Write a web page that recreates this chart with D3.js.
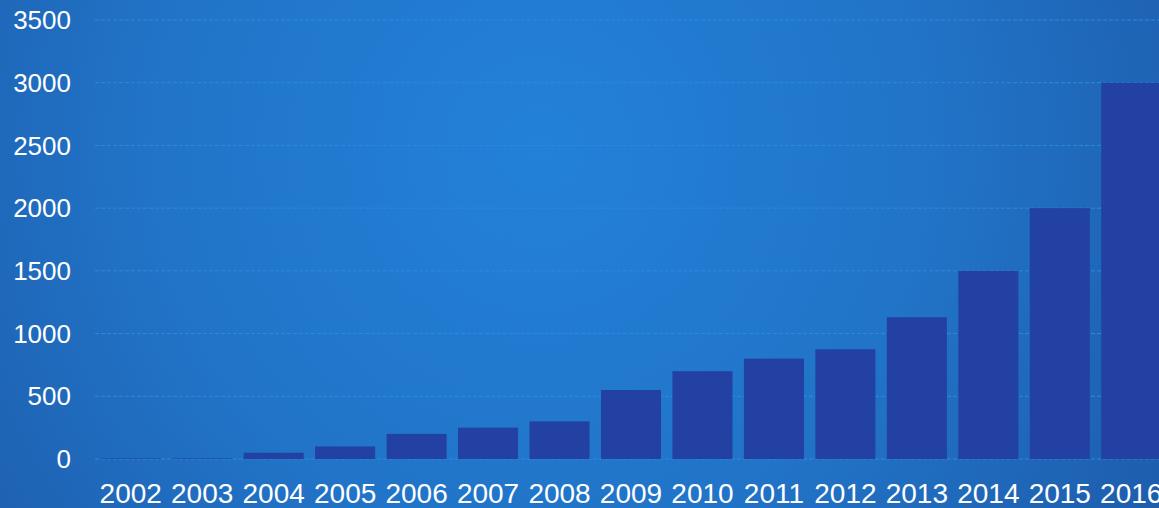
<!DOCTYPE html>
<html>
<head>
<meta charset="utf-8">
<script src="https://cdn.jsdelivr.net/npm/d3@7"></script>
<style>
  html, body { margin: 0; padding: 0; overflow: hidden; }
  svg { display: block; font-family: "Liberation Sans", Arial, sans-serif; }
</style>
</head>
<body>
<svg id="chart" width="1159" height="508"></svg>
<script>
const years = ["2002", "2003", "2004", "2005", "2006", "2007", "2008", "2009",
               "2010", "2011", "2012", "2013", "2014", "2015", "2016"]
const counts = [5, 5, 50, 100, 200, 250, 300, 550, 700, 800, 875, 1130, 1500, 2000, 3000]
const y_ticks = [0, 500, 1000, 1500, 2000, 2500, 3000, 3500]

const svg = d3.select("#chart")
const width = 1159, height = 508
const margin = { left: 95, right: -8, top: 20, bottom: 49 }

// background gradient
const defs = svg.append("defs")
const grad = defs.append("radialGradient")
    .attr("id", "bg-grad")
    .attr("gradientUnits", "userSpaceOnUse")
    .attr("cx", 540).attr("cy", 150).attr("r", 700)
grad.append("stop").attr("offset", "0%").attr("stop-color", "#2381d8")
grad.append("stop").attr("offset", "55%").attr("stop-color", "#2174c8")
grad.append("stop").attr("offset", "100%").attr("stop-color", "#1e5eae")

svg.append("rect")
    .attr("width", width).attr("height", height)
    .attr("fill", "url(#bg-grad)")

const x = d3.scaleBand()
    .domain(years)
    .range([margin.left, width - margin.right])
    .paddingInner(0.16)
    .paddingOuter(0.08)

const y = d3.scaleLinear()
    .domain([0, 3500])
    .range([height - margin.bottom, margin.top])

// gridlines
svg.append("g").attr("class", "grid")
    .selectAll("line")
    .data(y_ticks)
    .enter()
    .append("line")
    .attr("x1", margin.left)
    .attr("x2", width)
    .attr("y1", d => y(d))
    .attr("y2", d => y(d))
    .attr("stroke", "#2a8ae0")
    .attr("stroke-width", 1)
    .attr("stroke-dasharray", "4,2")

// bars
svg.append("g").attr("class", "bars")
    .selectAll("rect")
    .data(years)
    .enter()
    .append("rect")
    .attr("x", d => x(d))
    .attr("width", x.bandwidth())
    .attr("y", (d, i) => y(counts[i]))
    .attr("height", (d, i) => y(0) - y(counts[i]))
    .attr("fill", "#2241a3")

// y labels
svg.append("g").attr("class", "y-labels")
    .selectAll("text")
    .data(y_ticks)
    .enter()
    .append("text")
    .attr("x", 71)
    .attr("y", d => y(d))
    .attr("dy", "0.35em")
    .attr("text-anchor", "end")
    .attr("fill", "#ffffff")
    .attr("font-size", "26px")
    .text(d => d)

// x labels
svg.append("g").attr("class", "x-labels")
    .selectAll("text")
    .data(years)
    .enter()
    .append("text")
    .attr("x", d => x(d) + x.bandwidth() / 2)
    .attr("y", 503)
    .attr("text-anchor", "middle")
    .attr("fill", "#ffffff")
    .attr("font-size", "28px")
    .text(d => d)
</script>
</body>
</html>
